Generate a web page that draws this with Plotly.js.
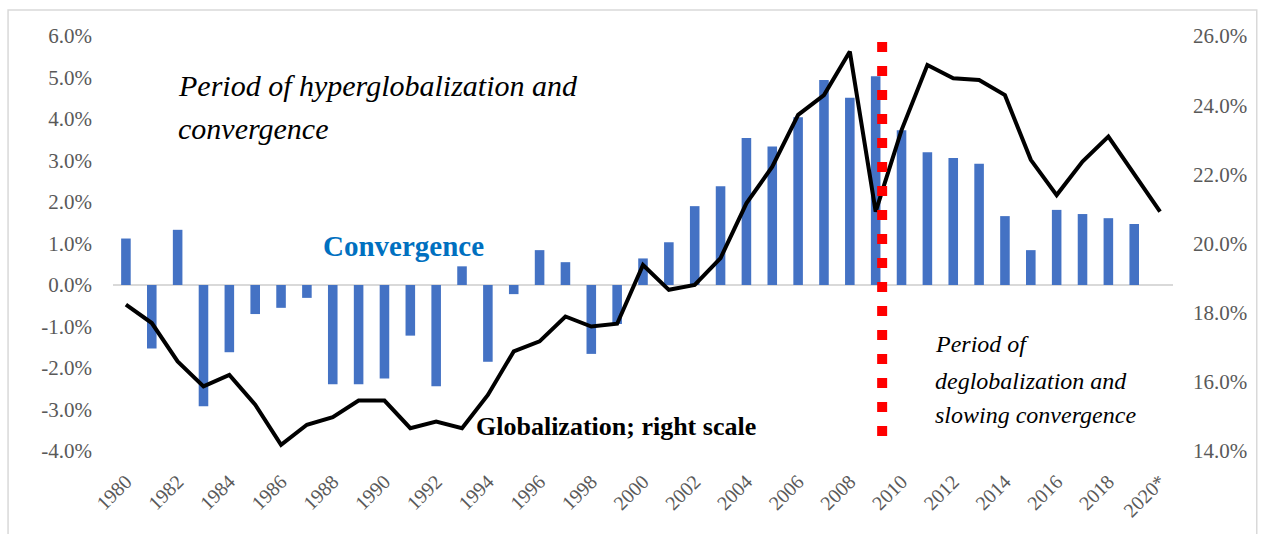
<!DOCTYPE html>
<html>
<head>
<meta charset="utf-8">
<script src="https://cdn.plot.ly/plotly-3.0.1.min.js"></script>
<style>html,body{margin:0;padding:0;background:#fff;}#chart{width:1265px;height:534px;}</style>
</head>
<body>
<div id="chart"></div>
<script>
// Years (x categories)
const years = [1980,1981,1982,1983,1984,1985,1986,1987,1988,1989,1990,1991,1992,1993,1994,1995,1996,1997,1998,1999,2000,2001,2002,2003,2004,2005,2006,2007,2008,2009,2010,2011,2012,2013,2014,2015,2016,2017,2018,2019,2020];
// Convergence (left axis, %), bars 1980-2019
const convergence = [1.12,-1.53,1.33,-2.92,-1.62,-0.70,-0.55,-0.31,-2.39,-2.39,-2.25,-1.22,-2.44,0.45,-1.85,-0.22,0.84,0.55,-1.66,-0.94,0.64,1.03,1.90,2.38,3.54,3.34,4.04,4.94,4.51,5.03,3.73,3.20,3.06,2.92,1.66,0.84,1.81,1.71,1.61,1.47,null];
// Globalization (right axis, %)
const globalization = [18.23,17.70,16.59,15.87,16.20,15.34,14.18,14.76,14.98,15.46,15.46,14.66,14.85,14.66,15.62,16.88,17.17,17.89,17.60,17.68,19.38,18.66,18.80,19.58,21.16,22.22,23.72,24.29,25.55,20.92,23.28,25.16,24.78,24.73,24.29,22.42,21.40,22.37,23.09,22.03,20.92];
// Tick labels
const tickYears = [1980,1982,1984,1986,1988,1990,1992,1994,1996,1998,2000,2002,2004,2006,2008,2010,2012,2014,2016,2018,2020];
const tickLabels = ['1980','1982','1984','1986','1988','1990','1992','1994','1996','1998','2000','2002','2004','2006','2008','2010','2012','2014','2016','2018','2020*'];
const leftTicks = [-4,-3,-2,-1,0,1,2,3,4,5,6];
const rightTicks = [14,16,18,20,22,24,26];
const dividerYear = 2009.25;

const serif = 'Liberation Serif, Times New Roman, serif';
const gray = '#595959';

const traces = [
  {type:'bar', x:years, y:convergence, marker:{color:'#4472C4'}, name:'Convergence', hoverinfo:'x+y'},
  {type:'scatter', mode:'lines', x:years, y:globalization, yaxis:'y2', line:{color:'#000000', width:4}, name:'Globalization'}
];

function note(x, y, text, size, color) {
  return {xref:'x', yref:'y', x:x, y:y, xanchor:'left', yanchor:'middle', align:'left', showarrow:false,
          text:text, font:{family:serif, size:size, color:color}};
}

const layout = {
  width:1265, height:534,
  margin:{l:113, r:92, t:36, b:83},
  paper_bgcolor:'#ffffff', plot_bgcolor:'#ffffff',
  showlegend:false,
  bargap:0.63,
  font:{family:serif, color:gray, size:20},
  xaxis:{
    range:[1979.5, 2020.5], tickvals:tickYears, ticktext:tickLabels, tickangle:-45,
    showgrid:false, zeroline:false, showline:false, ticks:'',
    ticklabelstandoff:14,
    tickfont:{family:serif, size:20, color:gray}
  },
  yaxis:{
    range:[-4,6], tickvals:leftTicks, ticktext:leftTicks.map(v=>v.toFixed(1)+'%'),
    showgrid:false, zeroline:true, zerolinecolor:'#d9d9d9', zerolinewidth:1.5, showline:false, ticks:'',
    ticklabelstandoff:20,
    tickfont:{family:serif, size:21, color:gray}
  },
  yaxis2:{
    overlaying:'y', side:'right', range:[14,26], tickvals:rightTicks, ticktext:rightTicks.map(v=>v.toFixed(1)+'%'),
    showgrid:false, zeroline:false, showline:false, ticks:'',
    ticklabelstandoff:19,
    tickfont:{family:serif, size:21, color:gray}
  },
  shapes:[
    {type:'line', xref:'x', yref:'y', x0:dividerYear, x1:dividerYear, y0:-3.64, y1:5.86,
     line:{color:'#ff0000', width:10, dash:'10px,14px'}},
    {type:'rect', xref:'paper', yref:'paper', x0:-0.099, x1:1.079, y0:-0.25, y1:1.0627,
     line:{color:'#d9d9d9', width:1.5}, fillcolor:'rgba(0,0,0,0)', layer:'below'}
  ],
  annotations:[
    note(1981.94, 4.80, '<i>Period of hyperglobalization and</i>', 30, '#000000'),
    note(1981.94, 3.78, '<i>convergence</i>', 30, '#000000'),
    note(1987.55, 0.94, '<b>Convergence</b>', 29, '#0070C0'),
    note(1993.45, -3.42, '<b>Globalization; right scale</b>', 26, '#000000'),
    note(2011.2, -1.42, '<i>Period of</i>', 24, '#000000'),
    note(2011.2, -2.31, '<i>deglobalization and</i>', 24, '#000000'),
    note(2011.2, -3.13, '<i>slowing convergence</i>', 24, '#000000')
  ]
};

Plotly.newPlot('chart', traces, layout, {displayModeBar:false, staticPlot:true});
</script>
</body>
</html>
